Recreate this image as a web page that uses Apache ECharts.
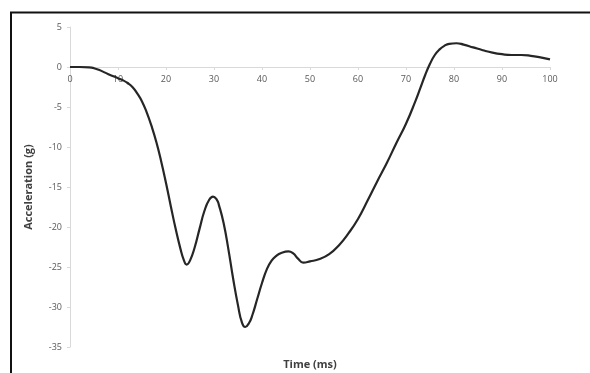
<!DOCTYPE html>
<html>
<head>
<meta charset="utf-8">
<script src="https://cdn.jsdelivr.net/npm/echarts@6/dist/echarts.min.js"></script>
<style>
  html, body { margin: 0; padding: 0; background: #fff; }
  #chart { width: 590px; height: 373px; }
</style>
</head>
<body>
<div id="chart"></div>
<script>
// Time samples (ms) and measured acceleration (g)
const timeMs = [0, 2, 4, 5, 6, 8, 10, 11, 12, 13, 14, 15, 16, 17, 18, 19, 20, 21, 22, 23, 23.7, 24.3, 25, 26, 27, 28, 29, 29.8, 30.6, 31, 32, 33, 34, 35, 35.8, 36.5, 37.3, 38, 39, 40, 41, 42, 43, 44, 45.5, 46.5, 47.5, 48.6, 50, 52, 54, 56, 58, 60, 62, 64, 66, 68, 70, 72, 73, 74, 75, 76, 77, 78, 79, 80.5, 82, 84, 86, 88, 90, 92, 94, 96, 98, 100];
const accelG = [0, 0, -0.05, -0.15, -0.35, -0.9, -1.4, -1.65, -2.0, -2.5, -3.3, -4.3, -5.7, -7.4, -9.4, -11.8, -14.5, -17.4, -20.2, -22.7, -24.1, -24.7, -24.2, -22.5, -20.2, -18.0, -16.6, -16.2, -16.6, -17.2, -19.5, -22.8, -26.5, -29.8, -31.9, -32.5, -32.0, -31.0, -29.0, -27.0, -25.3, -24.2, -23.6, -23.25, -23.05, -23.3, -23.95, -24.45, -24.3, -24.0, -23.4, -22.3, -20.8, -19.0, -16.7, -14.3, -12.0, -9.5, -7.1, -4.2, -2.6, -1.0, 0.4, 1.5, 2.2, 2.65, 2.9, 2.97, 2.8, 2.45, 2.1, 1.8, 1.6, 1.5, 1.5, 1.4, 1.2, 0.95];

const xTicks = { min: 0, max: 100, step: 10 };
const yTicks = { min: -35, max: 5, step: 5 };

const points = timeMs.map((t, i) => [t, accelG[i]]);

const chart = echarts.init(document.getElementById('chart'), null, { renderer: 'canvas' });

const labelStyle = { color: '#595959', fontSize: 9, fontFamily: 'Open Sans, DejaVu Sans, sans-serif' };
const titleFont = 'Open Sans, DejaVu Sans, sans-serif';

// Plot area geometry
const gridTop = 27, gridBottom = 26, gridHeight = 373 - gridTop - gridBottom;
// The time axis sits on the zero line of the acceleration scale
const zeroOffset = gridHeight * (0 - yTicks.min) / (yTicks.max - yTicks.min);

chart.setOption({
  animation: false,
  backgroundColor: '#ffffff',
  grid: { left: 70, right: 40, top: gridTop, bottom: gridBottom },
  xAxis: {
    type: 'value',
    min: xTicks.min,
    max: xTicks.max,
    interval: xTicks.step,
    position: 'bottom',
    offset: -zeroOffset,
    axisLine: { show: true, onZero: false, lineStyle: { color: '#d9d9d9', width: 1 } },
    axisTick: { show: true, length: 3, inside: false, lineStyle: { color: '#d9d9d9' } },
    axisLabel: Object.assign({ margin: 8 }, labelStyle),
    splitLine: { show: false }
  },
  yAxis: {
    type: 'value',
    min: yTicks.min,
    max: yTicks.max,
    interval: yTicks.step,
    name: 'Acceleration (g)',
    nameLocation: 'middle',
    nameGap: 36,
    nameTextStyle: { color: '#404040', fontSize: 11, fontWeight: 'bold', fontFamily: titleFont },
    axisLine: { show: true, lineStyle: { color: '#d9d9d9', width: 1 } },
    axisTick: { show: true, length: 3, lineStyle: { color: '#d9d9d9' } },
    axisLabel: Object.assign({ margin: 8 }, labelStyle),
    splitLine: { show: false }
  },
  graphic: [
    {
      type: 'polyline',
      shape: { points: [[11, 380], [11, 12.5], [600, 12.5]] },
      style: { fill: 'none', stroke: '#111', lineWidth: 2 },
      silent: true
    },
    {
      type: 'text',
      x: 310,
      y: 365,
      style: {
        text: 'Time (ms)',
        fill: '#404040',
        font: 'bold 11px ' + titleFont,
        textAlign: 'center',
        textVerticalAlign: 'middle'
      },
      silent: true
    }
  ],
  series: [{
    type: 'line',
    data: points,
    smooth: 0.5,
    showSymbol: false,
    lineStyle: { color: '#262626', width: 2.2 }
  }]
});
</script>
</body>
</html>
